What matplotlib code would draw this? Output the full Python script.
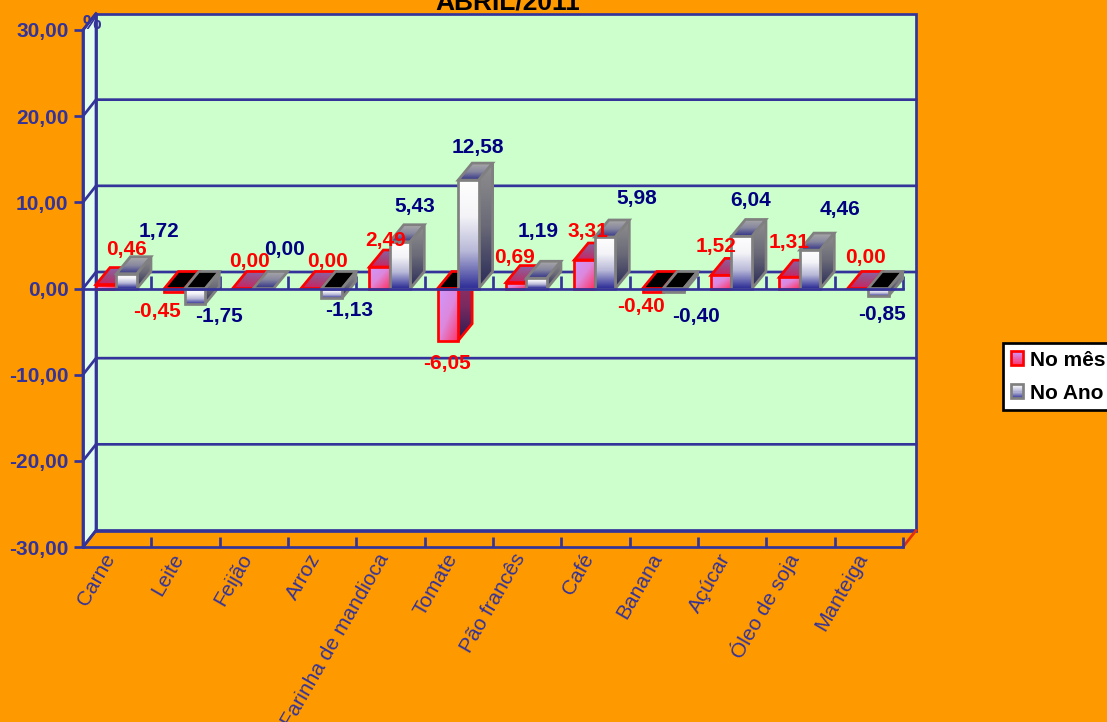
import numpy as np
import matplotlib
matplotlib.use("Agg")
import matplotlib.pyplot as plt
from matplotlib.colors import to_rgb
from matplotlib.patches import Polygon, Rectangle
from matplotlib.legend_handler import HandlerBase

plt.rcParams['font.family'] = ['Liberation Sans', 'DejaVu Sans']

title = "ABRIL/2011"
categories = ["Carne", "Leite", "Feijão", "Arroz", "Farinha de mandioca", "Tomate",
              "Pão francês", "Café", "Banana", "Açúcar", "Óleo de soja", "Manteiga"]
no_mes = [0.46, -0.45, 0.00, 0.00, 2.49, -6.05, 0.69, 3.31, -0.40, 1.52, 1.31, 0.00]
no_ano = [1.72, -1.75, 0.00, -1.13, 5.43, 12.58, 1.19, 5.98, -0.40, 6.04, 4.46, -0.85]
y_ticks = [-30, -20, -10, 0, 10, 20, 30]

# label placement relative to each bar's front-top centre, in pixels
mes_off = [(20.5, 35.5), (-17.8, -19.6), (6.8, 26.5), (16.5, 27.5), (6, 27), (-1, -22.4),
           (-1.5, 24.6), (3, 28), (-12, -15), (-5.5, 29.4), (0, 35), (8, 31.5)]
ano_off = [(32.5, 41.7), (24, -13.4), (21, 39.5), (17.5, -11.8), (15, 35.7), (9, 33),
           (1.5, 47), (32, 38), (23, -25), (8.5, 35.5), (30, 41), (4, -19)]

W, H = 1107, 722
BLUE = "#333399"
NAVY = "#000080"
PX = 0.72
LW = 2.7 * PX
fig = plt.figure(figsize=(W / 100, H / 100), dpi=100, facecolor="#FF9900")
ax = fig.add_axes([83 / W, 1 - 547 / H, 820 / W, 517 / H])
ax.patch.set_visible(False)
ax.set_xlim(0, 12)
ax.set_ylim(-30, 30)

DX = 13 / (820 / 12)       # depth of the walls in x data units
DY = 16.5 / (517 / 60)     # depth of the walls in y data units
BDX = 14 / (820 / 12)
BDY = 17 / (517 / 60)
X0, BW = 0.19, 0.30


def poly(points, z, **kw):
    p = Polygon(points, closed=True, clip_on=False, zorder=z, **kw)
    ax.add_patch(p)
    return p


def grad(points, stops, angle, z, edge, n=40):
    pts = np.array(points, dtype=float)
    xa, ya = pts.min(axis=0)
    xb, yb = pts.max(axis=0)
    if yb - ya < 1e-9:
        yb = ya + 1e-6
    u, v = np.meshgrid(np.linspace(0, 1, n), np.linspace(0, 1, n))
    a = np.deg2rad(angle)
    t = u * np.cos(a) + v * np.sin(a)
    t = (t - t.min()) / (t.max() - t.min())
    pos = np.linspace(0, 1, len(stops))
    cols = np.array([to_rgb(c) for c in stops])
    img = np.dstack([np.interp(t, pos, cols[:, k]) for k in range(3)])
    im = ax.imshow(img, extent=(xa, xb, ya, yb), aspect="auto", origin="upper",
                   interpolation="bilinear", zorder=z)
    outline = poly(points, z + 0.1, fc="none", ec=edge, lw=LW, joinstyle="miter")
    clip = Polygon(points, closed=True, transform=ax.transData)
    im.set_clip_path(clip)
    im.set_clip_on(True)
    im.set_clip_box(None)
    return outline


RED = dict(edge="#FF0000",
           front=["#CC99FF", "#DD88DD", "#FF3366"], fa=45,
           side=["#A03060", "#7A2A60", "#2A1A50"], sa=90,
           top=["#8866AA", "#A04880", "#D02060"], ta=100)
GRAY = dict(edge="#808080",
            front=["#FFFFFF", "#F4F4F8", "#B8B8D8", "#333399"], fa=90,
            side=["#909090", "#6A6A78", "#2A2A58"], sa=90,
            top=["#A8A8A8", "#8888A0", "#333388"], ta=90)


def bar3d(x0, value, st, z):
    x1 = x0 + BW
    if value >= 0:
        grad([(x0, value), (x1, value), (x1 + BDX, value + BDY), (x0 + BDX, value + BDY)],
             st["top"], st["ta"], z, st["edge"])
        if value > 0:
            grad([(x1, 0), (x1 + BDX, BDY), (x1 + BDX, value + BDY), (x1, value)],
                 st["side"], st["sa"], z + 0.2, st["edge"])
            grad([(x0, 0), (x1, 0), (x1, value), (x0, value)],
                 st["front"], st["fa"], z + 0.4, st["edge"])
    else:
        poly([(x0, 0), (x1, 0), (x1 + BDX, BDY), (x0 + BDX, BDY)], z,
             fc="black", ec=st["edge"], lw=LW, joinstyle="miter")
        grad([(x1, 0), (x1 + BDX, BDY), (x1 + BDX, value + BDY), (x1, value)],
             st["side"], st["sa"], z + 0.2, st["edge"])
        grad([(x0, 0), (x1, 0), (x1, value), (x0, value)],
             st["front"], st["fa"], z + 0.4, st["edge"])


# walls
poly([(DX, -30 + DY), (12 + DX, -30 + DY), (12 + DX, 30 + DY), (DX, 30 + DY)], 0.5,
     fc="#CCFFCC", ec=BLUE, lw=LW)
poly([(0, -30), (DX, -30 + DY), (DX, 30 + DY), (0, 30)], 0.6,
     fc="#E2FFEE", ec=BLUE, lw=LW)
for t in y_ticks:
    if -30 <= t < 30:
        ax.plot([0, DX, 12 + DX], [t, t + DY, t + DY], color=BLUE, lw=LW,
                clip_on=False, zorder=0.7, solid_joinstyle="miter")
ax.plot([0, DX], [30, 30 + DY], color=BLUE, lw=LW, clip_on=False, zorder=0.7)
ax.plot([12, 12 + DX], [-30, -30 + DY], color="#E03010", lw=LW, clip_on=False, zorder=0.7)

# zero-line ticks, behind the bars
ax.vlines(np.arange(1, 13), 0, 1.4, color=BLUE, lw=LW, zorder=0.8, clip_on=False)

# bars, left to right
z = 1.0
for i in range(len(categories)):
    bar3d(i + X0, no_mes[i], RED, z)
    bar3d(i + X0 + BW, no_ano[i], GRAY, z + 1)
    z += 2
ax.plot([0, 12], [0, 0], color=BLUE, lw=LW, zorder=z, clip_on=False)


def fmt(v):
    return f"{v:.2f}".replace(".", ",")


# data labels
for i in range(len(categories)):
    for vals, off, col, shift in ((no_mes, mes_off, "#FF0000", 0), (no_ano, ano_off, NAVY, BW)):
        ax.annotate(fmt(vals[i]), xy=(i + X0 + shift + BW / 2, vals[i]), xytext=off[i],
                    textcoords="offset pixels", ha="center", va="center", color=col,
                    fontsize=15, fontweight="bold", zorder=z + 1, annotation_clip=False)

# axes furniture
ax.xaxis.set_zorder(z)
for s in ("top", "right"):
    ax.spines[s].set_visible(False)
for s in ("left", "bottom"):
    ax.spines[s].set_color(BLUE)
    ax.spines[s].set_linewidth(LW)
ax.set_yticks(y_ticks, [fmt(t) for t in y_ticks])
ax.tick_params(axis="y", direction="out", length=9 * PX, width=LW, color=BLUE,
               labelcolor=BLUE, labelsize=15, pad=4)
for lab in ax.get_yticklabels():
    lab.set_fontweight("bold")
ax.set_xticks(np.arange(1, 13), [""] * 12)
ax.tick_params(axis="x", which="major", direction="in", length=10 * PX, width=LW, color=BLUE)
ax.set_xticks(np.arange(12) + 0.385, categories, minor=True)
ax.tick_params(axis="x", which="minor", length=0, labelcolor=BLUE, labelsize=15, pad=5)
for lab in ax.get_xticklabels(minor=True):
    lab.set_rotation(60)
    lab.set_ha("right")
    lab.set_va("center_baseline")
    lab.set_rotation_mode("anchor")

ax.text(DX * 0.7, 30.8, "%", color=BLUE, fontsize=15, fontweight="bold", ha="center",
        va="center", zorder=z + 1, clip_on=False)
fig.text(508 / W, 1 - 9 / H, title, color="black", fontsize=19, fontweight="bold",
         ha="center", va="baseline")


class GradHandler(HandlerBase):
    def __init__(self, stops, edge):
        super().__init__()
        self.stops, self.edge = stops, edge

    def create_artists(self, legend, orig, xd, yd, w, h, fs, trans):
        arts = []
        n = 12
        hh = 10
        y0 = -yd + (h - hh) / 2
        xs = -xd
        pos = np.linspace(0, 1, len(self.stops))
        cols = np.array([to_rgb(c) for c in self.stops])
        for k in range(n):
            c = [np.interp((k + 0.5) / n, pos, cols[:, j]) for j in range(3)]
            arts.append(Rectangle((xs, y0 + hh * (1 - (k + 1) / n)), w, hh / n, fc=c, ec="none",
                                  transform=trans))
        arts.append(Rectangle((xs, y0), w, hh, fc="none", ec=self.edge, lw=LW, transform=trans))
        return arts


h1 = Rectangle((0, 0), 1, 1, label="No mês")
h2 = Rectangle((0, 0), 1, 1, label="No Ano")
leg = fig.legend(handles=[h1, h2], labels=["No mês", "No Ano"], loc="upper left",
                 bbox_to_anchor=(1003 / W, 1 - 343 / H), borderaxespad=0,
                 prop={"size": 15, "weight": "bold"}, facecolor="white", edgecolor="black",
                 framealpha=1, fancybox=False, handlelength=0.62, handleheight=0.7,
                 handletextpad=0.33, borderpad=0.36, labelspacing=0.68,
                 handler_map={h1: GradHandler(["#CC99FF", "#FF3366"], "#FF0000"),
                              h2: GradHandler(["#FFFFFF", "#B8B8D8", "#333399"], "#808080")})
leg.get_frame().set_linewidth(LW)

ax.set_xlim(0, 12)
ax.set_ylim(-30, 30)
fig.savefig("out.png", dpi=100, facecolor=fig.get_facecolor())
